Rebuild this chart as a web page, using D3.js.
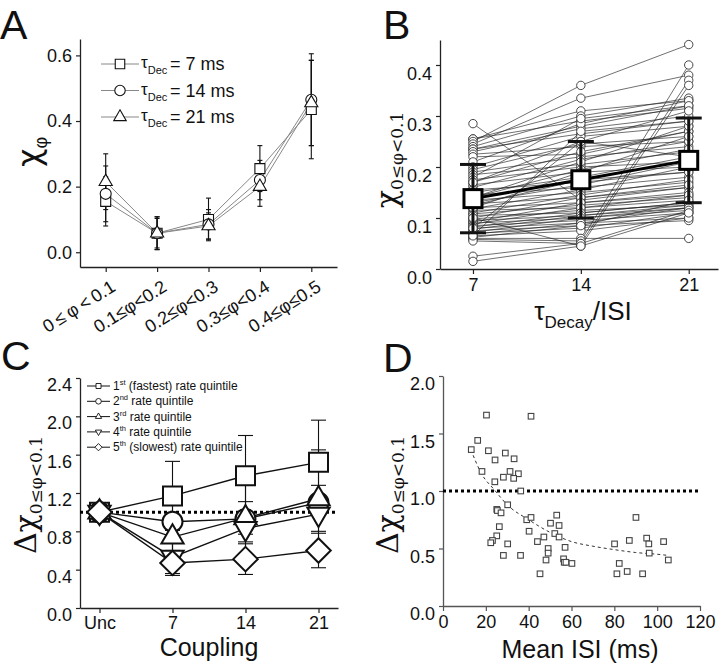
<!DOCTYPE html>
<html><head><meta charset="utf-8">
<script src="https://cdn.jsdelivr.net/npm/d3@7"></script>
<style>
body{margin:0;background:#fff}
svg{display:block}
text{font-family:"Liberation Sans",Arial,sans-serif;fill:#111}
tspan.serif,text.serif{font-family:"DejaVu Serif","Liberation Serif",serif}
tspan.chi{font-family:"DejaVu Sans",sans-serif}
</style>
</head><body>
<svg id="c" width="720" height="666"></svg>
<script>
// ---------- Panel A data ----------
const aCats = ["0\u2009\u2264\u2009\u03c6\u2009<\u20090.1","0.1\u2264\u03c6<0.2","0.2\u2264\u03c6<0.3","0.3\u2264\u03c6<0.4","0.4\u2264\u03c6\u22640.5"];
const aTau7   = [0.155,0.058,0.100,0.255,0.435];
const aTau7Err  = [0.075,0.050,0.065,0.070,0.150];
const aTau14  = [0.178,0.058,0.085,0.220,0.465];
const aTau14Err = [0.085,0.045,0.045,0.060,0.140];
const aTau21  = [0.215,0.058,0.080,0.200,0.455];
const aTau21Err = [0.085,0.050,0.040,0.060,0.130];
const aLegend = ["7","14","21"];
const aYTicks = [0,0.2,0.4,0.6];

// ---------- Panel B data (individual cells at tau/ISI 7,14,21) ----------
const bX = [7,14,21];
const b7  = [0.285,0.255,0.255,0.250,0.245,0.240,0.235,0.235,0.230,0.225,0.220,0.210,0.200,0.195,0.190,0.185,0.180,0.175,0.170,0.165,0.160,0.155,0.150,0.145,0.140,0.135,0.130,0.128,0.125,0.120,0.118,0.115,0.110,0.108,0.105,0.100,0.098,0.095,0.092,0.090,0.088,0.085,0.082,0.080,0.078,0.075,0.072,0.070,0.068,0.065,0.062,0.060,0.058,0.055,0.100,0.025,0.015,0.170,0.140,0.120,0.065,0.080];
const b14 = [0.135,0.310,0.290,0.360,0.335,0.300,0.280,0.265,0.275,0.240,0.225,0.285,0.260,0.245,0.220,0.205,0.295,0.200,0.230,0.190,0.215,0.170,0.180,0.160,0.195,0.150,0.165,0.140,0.175,0.130,0.155,0.120,0.145,0.125,0.110,0.140,0.115,0.105,0.130,0.100,0.120,0.095,0.110,0.090,0.105,0.085,0.100,0.080,0.090,0.075,0.085,0.060,0.055,0.050,0.045,0.050,0.045,0.250,0.210,0.190,0.270,0.250];
const b21 = [0.160,0.330,0.315,0.440,0.380,0.335,0.320,0.290,0.300,0.250,0.270,0.330,0.280,0.260,0.240,0.230,0.320,0.210,0.270,0.200,0.250,0.190,0.220,0.180,0.235,0.170,0.210,0.160,0.190,0.145,0.200,0.135,0.175,0.140,0.130,0.165,0.125,0.120,0.150,0.115,0.145,0.110,0.130,0.100,0.125,0.095,0.120,0.110,0.120,0.100,0.135,0.060,0.400,0.370,0.360,0.115,0.110,0.310,0.280,0.260,0.290,0.220];
const bMean = [0.138,0.175,0.213];
const bSD   = [0.067,0.075,0.083];
const bYTicks = [0,0.1,0.2,0.3,0.4];

// ---------- Panel C data ----------
const cCats = ["Unc","7","14","21"];
const cQ1 = [1.00,1.17,1.38,1.52], cQ1Err = [0,0.36,0.42,0.44];
const cQ2 = [1.00,0.90,0.93,1.10], cQ2Err = [0,0.30,0.37,0.55];
const cQ3 = [1.00,0.74,0.94,1.14], cQ3Err = [0,0.20,0.17,0.14];
const cQ4 = [1.00,0.53,0.83,0.98], cQ4Err = [0,0.17,0.14,0.18];
const cQ5 = [1.00,0.47,0.51,0.60], cQ5Err = [0,0.13,0.16,0.18];
const cLegendOrd = ["st","nd","rd","th","th"];
const cLegendTxt = [" (fastest) rate quintile"," rate quintile"," rate quintile"," rate quintile"," (slowest) rate quintile"];
const cYTicks = [0,0.4,0.8,1.2,1.6,2.0,2.4];

// ---------- Panel D data ----------
const dISI = [20.3,41.1,16.2,13.2,21.2,29.1,33.2,24.3,18.2,31.3,35.2,33.0,28.2,24.2,36.3,30.2,25.1,25.4,27.1,39.1,41.1,53.1,50.2,54.2,26.3,40.2,52.2,54.2,47.1,25.1,23.1,22.3,30.2,44.1,57.0,49.1,49.1,28.2,36.2,48.1,56.3,56.6,57.4,60.2,45.3,80.1,87.0,90.1,95.1,96.1,96.3,103.0,105.2,82.3,81.2,86.0,93.2];
const dChi = [1.66,1.65,1.44,1.36,1.35,1.33,1.28,1.27,1.17,1.17,1.15,1.11,1.12,1.08,1.00,0.88,0.84,0.83,0.81,0.75,0.77,0.79,0.72,0.70,0.69,0.65,0.63,0.60,0.60,0.61,0.57,0.55,0.54,0.56,0.51,0.50,0.46,0.44,0.44,0.40,0.41,0.38,0.38,0.37,0.28,0.54,0.57,0.77,0.59,0.54,0.46,0.56,0.40,0.37,0.28,0.30,0.28];
const dFitX = [13,18,24,30,40,50,60,70,80,90,100,105];
const dFitY = [1.36,1.15,1.01,0.88,0.75,0.64,0.56,0.52,0.49,0.465,0.45,0.44];
const dXTicks = [0,20,40,60,80,100,120];
const dYTicks = [0,0.5,1.0,1.5,2.0];

// ---------- helpers ----------
const svg = d3.select("#c");
const fmt1 = d3.format(".1f");
const diamond = {draw(ctx,size){const r=Math.sqrt(size/2);ctx.moveTo(0,-r);ctx.lineTo(r,0);ctx.lineTo(0,r);ctx.lineTo(-r,0);ctx.closePath();}};
function styleAxis(fs,col){
  return g=>{
    g.attr("font-size",null).attr("font-family",null);
    g.select(".domain").attr("stroke",col||"#222").attr("stroke-width",1.3);
    g.selectAll(".tick line").attr("stroke",col||"#222").attr("stroke-width",1.2);
    g.selectAll(".tick text").style("font-size",fs+"px").attr("fill","#111");
  };
}
function errBar(g,x,y0,y1,w,sw){
  g.append("line").attr("x1",x).attr("x2",x).attr("y1",y0).attr("y2",y1).attr("stroke","#111").attr("stroke-width",sw);
  g.append("line").attr("x1",x-w/2).attr("x2",x+w/2).attr("y1",y0).attr("y2",y0).attr("stroke","#111").attr("stroke-width",sw);
  g.append("line").attr("x1",x-w/2).attr("x2",x+w/2).attr("y1",y1).attr("y2",y1).attr("stroke","#111").attr("stroke-width",sw);
}
function marker(g,type,size,x,y,sw,rot){
  g.append("path").attr("d",d3.symbol().type(type).size(size)())
    .attr("transform",`translate(${x},${y})${rot?" rotate(180)":""}`)
    .attr("fill","#fff").attr("stroke","#111").attr("stroke-width",sw);
}
function letter(t,x,y){svg.append("text").attr("x",x).attr("y",y).attr("font-size",41).text(t);}

// ================= Panel A =================
letter("A",0,39);
const xA = d3.scalePoint().domain(aCats).range([80,337]).padding(0.5);
const yA = d3.scaleLinear().domain([-0.045,0.65]).range([267,39]);
const gA = svg.append("g");
gA.append("g").attr("transform","translate(80,0)")
  .call(d3.axisLeft(yA).tickValues(aYTicks).tickFormat(fmt1).tickSize(4).tickPadding(4).tickSizeOuter(0)).call(styleAxis(18));
gA.append("g").attr("transform","translate(0,267)")
  .call(d3.axisBottom(xA).tickSize(5).tickSizeOuter(0).tickFormat("")).call(styleAxis(18));
gA.selectAll(".xl").data(aCats).join("text")
  .attr("transform",d=>`translate(${xA(d)+11},290) rotate(-32)`)
  .attr("text-anchor","end").attr("font-size",18).text(d=>d);
const aSeries = [[aTau7,aTau7Err,d3.symbolSquare,100],[aTau14,aTau14Err,d3.symbolCircle,95],[aTau21,aTau21Err,d3.symbolTriangle,75]];
const lineA = d3.line().x((d,i)=>xA(aCats[i])).y(d=>yA(d));
aSeries.forEach(s=>gA.append("path").attr("d",lineA(s[0])).attr("fill","none").attr("stroke","#888").attr("stroke-width",1));
aSeries.forEach(s=>s[0].forEach((v,i)=>errBar(gA,xA(aCats[i]),yA(v-s[1][i]),yA(v+s[1][i]),5,1.1)));
aSeries.forEach(s=>s[0].forEach((v,i)=>marker(gA,s[2],s[3],xA(aCats[i]),yA(v),1.1)));
// legend A
aLegend.forEach((t,i)=>{
  const y = 64 + i*26.5;
  gA.append("line").attr("x1",101).attr("x2",139).attr("y1",y).attr("y2",y).attr("stroke","#888").attr("stroke-width",1);
  marker(gA,aSeries[i][2],aSeries[i][3]*0.9,120,y,1.1);
  const tx = gA.append("text").attr("x",141).attr("y",y+4).attr("font-size",17);
  tx.append("tspan").text("\u03c4");
  tx.append("tspan").attr("font-size",11).attr("dy",6).text("Dec");
  gA.append("text").attr("x",170).attr("y",y+6).attr("font-size",18).text(`= ${t} ms`);
});
// y label A
const ylA = svg.append("text").attr("transform","translate(40,152) rotate(-90)").attr("text-anchor","middle");
ylA.append("tspan").attr("class","chi").attr("font-size",32).text("\u03c7");
ylA.append("tspan").attr("font-size",18).attr("dy",7).text("\u03c6");

// ================= Panel B =================
letter("B",383,39);
const xB = d3.scaleLinear().domain([4.86,22.9]).range([440,718]);
const yB = d3.scaleLinear().domain([0,0.449]).range([269,40]);
const gB = svg.append("g");
gB.append("g").attr("transform","translate(440,0)")
  .call(d3.axisLeft(yB).tickValues(bYTicks).tickFormat(fmt1).tickSize(4).tickPadding(4).tickSizeOuter(0)).call(styleAxis(18));
gB.append("g").attr("transform","translate(0,269)")
  .call(d3.axisBottom(xB).tickValues(bX).tickSize(5).tickSizeOuter(0)).call(styleAxis(18));
gB.selectAll(".tick text").attr("dy","0.8em");
const cells = b7.map((v,i)=>[v,b14[i],b21[i]]);
const lineB = d3.line().x((d,i)=>xB(bX[i])).y(d=>yB(d));
cells.forEach(c=>gB.append("path").attr("d",lineB(c)).attr("fill","none").attr("stroke","#222").attr("stroke-width",0.65));
cells.forEach(c=>c.forEach((v,i)=>gB.append("circle").attr("cx",xB(bX[i])).attr("cy",yB(v)).attr("r",4.2).attr("fill","#fff").attr("stroke","#333").attr("stroke-width",0.9)));
bMean.forEach((m,i)=>errBar(gB,xB(bX[i]),yB(m-bSD[i]),yB(m+bSD[i]),26,3));
gB.append("path").attr("d",lineB(bMean)).attr("fill","none").attr("stroke","#000").attr("stroke-width",3);
bMean.forEach((m,i)=>gB.append("rect").attr("x",xB(bX[i])-9).attr("y",yB(m)-9).attr("width",18).attr("height",18).attr("fill","#fff").attr("stroke","#000").attr("stroke-width",3));
const xlB = svg.append("text").attr("x",583).attr("y",320).attr("text-anchor","middle");
xlB.append("tspan").attr("font-size",26).text("\u03c4");
xlB.append("tspan").attr("font-size",17).attr("dy",8).text("Decay");
xlB.append("tspan").attr("font-size",26).attr("dy",-8).text("/ISI");
const ylB = svg.append("text").attr("transform","translate(397,160) rotate(-90)").attr("text-anchor","middle");
ylB.append("tspan").attr("font-size",30).attr("class","serif").text("\u03c7");
ylB.append("tspan").attr("font-size",17).attr("class","serif").attr("dy",6).text("0\u2264\u03c6<0.1");

// ================= Panel C =================
letter("C",1,370);
const xC = d3.scalePoint().domain(cCats).range([80,338]).padding(0.267);
const yC = d3.scaleLinear().domain([0,2.4]).range([608,378]);
const gC = svg.append("g");
gC.append("g").attr("transform","translate(80,0)")
  .call(d3.axisLeft(yC).tickValues(cYTicks).tickFormat(fmt1).tickSize(4).tickPadding(4).tickSizeOuter(0)).call(styleAxis(18));
gC.append("g").attr("transform","translate(0,608)")
  .call(d3.axisBottom(xC).tickSize(5).tickSizeOuter(0)).call(styleAxis(18));
gC.selectAll(".tick text").attr("dy","0.7em");
gC.append("line").attr("x1",80).attr("x2",338).attr("y1",yC(1)).attr("y2",yC(1)).attr("stroke","#000").attr("stroke-width",3).attr("stroke-dasharray","3,3");
const cSeries = [
  [cQ1,cQ1Err,d3.symbolSquare,361,false,25],
  [cQ2,cQ2Err,d3.symbolCircle,314,false,25],
  [cQ3,cQ3Err,d3.symbolTriangle,215,false,17],
  [cQ4,cQ4Err,d3.symbolTriangle,215,true,17],
  [cQ5,cQ5Err,diamond,300,false,26]];
const lineC = d3.line().x((d,i)=>xC(cCats[i])).y(d=>yC(d));
cSeries.forEach(s=>gC.append("path").attr("d",lineC(s[0])).attr("fill","none").attr("stroke","#111").attr("stroke-width",1.4));
cSeries.forEach(s=>s[0].forEach((v,i)=>{ if(s[1][i]>0) errBar(gC,xC(cCats[i]),yC(v-s[1][i]),yC(v+s[1][i]),15,1.1);}));
cSeries.forEach(s=>s[0].forEach((v,i)=>marker(gC,s[2],s[3],xC(cCats[i]),yC(v),2,s[4])));
// legend C
cLegendOrd.forEach((o,i)=>{
  const y = 386 + i*15.3;
  gC.append("line").attr("x1",87).attr("x2",110).attr("y1",y).attr("y2",y).attr("stroke","#111").attr("stroke-width",1);
  marker(gC,cSeries[i][2],cSeries[i][5],98.5,y,0.9,cSeries[i][4]);
  const t = gC.append("text").attr("x",113).attr("y",y+4).attr("font-size",12);
  t.append("tspan").text(String(i+1));
  t.append("tspan").attr("font-size",7.5).attr("dy",-5).text(o);
  t.append("tspan").attr("dy",5).text(cLegendTxt[i]);
});
svg.append("text").attr("x",209).attr("y",656).attr("text-anchor","middle").attr("font-size",25).text("Coupling");
const ylC = svg.append("text").attr("transform","translate(36,495) rotate(-90)").attr("text-anchor","middle");
ylC.append("tspan").attr("font-size",30).attr("class","serif").text("\u0394\u03c7");
ylC.append("tspan").attr("font-size",17).attr("class","serif").attr("dy",6).text("0\u2264\u03c6<0.1");

// ================= Panel D =================
letter("D",383,372);
const xD = d3.scaleLinear().domain([0,120]).range([443,700]);
const yD = d3.scaleLinear().domain([0,2.0]).range([606,376]);
const gD = svg.append("g");
gD.append("g").attr("transform","translate(443,0)")
  .call(d3.axisLeft(yD).tickValues(dYTicks).tickFormat(fmt1).tickSize(4).tickPadding(4).tickSizeOuter(0)).call(styleAxis(18,"#555"));
gD.append("g").attr("transform","translate(0,606)")
  .call(d3.axisBottom(xD).tickValues(dXTicks).tickSize(5).tickSizeOuter(0)).call(styleAxis(18,"#555"));
gD.selectAll(".tick text").attr("dy","0.75em");
gD.append("line").attr("x1",443).attr("x2",700).attr("y1",yD(1)).attr("y2",yD(1)).attr("stroke","#000").attr("stroke-width",3).attr("stroke-dasharray","3,3");
gD.append("path").attr("d",d3.line().curve(d3.curveMonotoneX).x((d,i)=>xD(dFitX[i])).y(d=>yD(d))(dFitY))
  .attr("fill","none").attr("stroke","#333").attr("stroke-width",1).attr("stroke-dasharray","3,3");
dISI.forEach((x,i)=>gD.append("rect").attr("x",xD(x)-2.8).attr("y",yD(dChi[i])-2.8).attr("width",5.6).attr("height",5.6)
  .attr("fill","#fff").attr("stroke","#444").attr("stroke-width",1.1));
svg.append("text").attr("x",580).attr("y",658).attr("text-anchor","middle").attr("font-size",25).text("Mean ISI (ms)");
const ylD = svg.append("text").attr("transform","translate(398,495) rotate(-90)").attr("text-anchor","middle");
ylD.append("tspan").attr("font-size",30).attr("class","serif").text("\u0394\u03c7");
ylD.append("tspan").attr("font-size",17).attr("class","serif").attr("dy",6).text("0\u2264\u03c6<0.1");
</script>
</body></html>
